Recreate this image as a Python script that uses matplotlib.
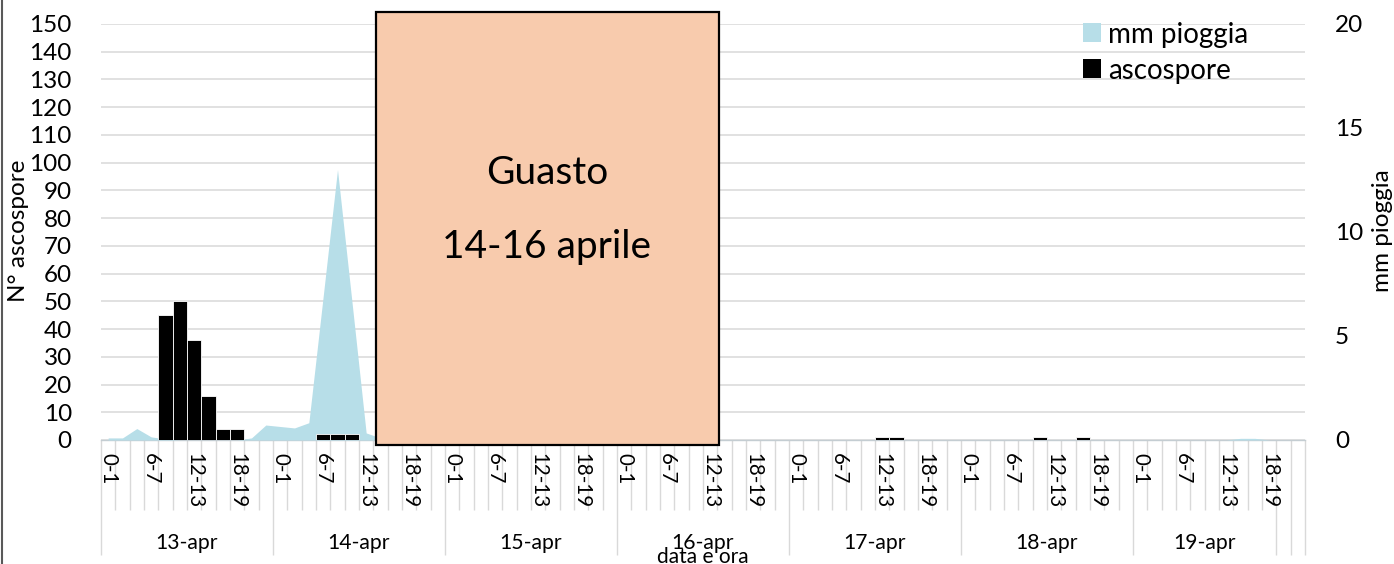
import numpy as np
import matplotlib
matplotlib.use("Agg")
import matplotlib.pyplot as plt
from matplotlib.patches import Rectangle, Patch
from matplotlib.lines import Line2D
from matplotlib.ticker import FixedLocator

plt.rcParams['font.family'] = ['Lato', 'DejaVu Sans']

# ---------------- data ----------------
days = ["13-apr", "14-apr", "15-apr", "16-apr", "17-apr", "18-apr", "19-apr", "", ""]
day_slots = [12, 12, 12, 12, 12, 12, 10, 1, 1]
slot_labels = ["0-1", "2-3", "4-5", "6-7", "8-9", "10-11",
               "12-13", "14-15", "16-17", "18-19", "20-21", "22-23"]

# ascospore counts (per 2-hour slot)
asc_13 = [0, 0, 0, 0, 45, 50, 36, 16, 4, 4, 0, 0]
asc_14 = [0, 0, 0, 2, 2, 2, 0, 0, 0, 0, 0, 0]
asc_15 = [0] * 12
asc_16 = [0] * 12
asc_17 = [0, 0, 0, 0, 0, 0, 1, 1, 0, 0, 0, 0]
asc_18 = [0, 0, 0, 0, 0, 1, 0, 0, 1, 0, 0, 0]
asc_19 = [0, 0, 0, 0, 0, 0, 0, 0, 0, 0]
asc_extra = [0, 0]

# rain mm (per 2-hour slot)
rain_13 = [0.1, 0.1, 0.55, 0.15, 0.05, 0, 0, 0, 0, 0, 0.1, 0.72]
rain_14 = [0.65, 0.58, 0.83, 6.9, 13.0, 6.7, 0.34, 0.1, 0, 0, 0, 0]
rain_15 = [0] * 12
rain_16 = [0] * 12
rain_17 = [0] * 12
rain_18 = [0] * 12
rain_19 = [0, 0, 0, 0, 0, 0, 0, 0.08, 0.08, 0]
rain_extra = [0, 0]

ascospore = np.array(asc_13 + asc_14 + asc_15 + asc_16 + asc_17 + asc_18 + asc_19 + asc_extra, float)
pioggia = np.array(rain_13 + rain_14 + rain_15 + rain_16 + rain_17 + rain_18 + rain_19 + rain_extra, float)

n = len(ascospore)
centers = np.arange(n) + 0.5

# hour labels for each slot
hour_lab = []
for cnt in day_slots:
    hour_lab += slot_labels[:cnt]

W, H = 1394, 564
fig = plt.figure(figsize=(W / 100, H / 100), dpi=100)
L, R, T, B = 101, 1305, 24, 440
pos = [L / W, 1 - B / H, (R - L) / W, (B - T) / H]

ax = fig.add_axes(pos)
ax2 = ax.twinx()
ax3 = fig.add_axes(pos, sharex=ax, sharey=ax)
ax.set_zorder(0)
ax2.set_zorder(1)
ax3.set_zorder(2)
ax3.axis('off')
ax2.patch.set_visible(False)

grid_c = '#D9D9D9'
ax.set_xlim(0, n)
ax.set_ylim(0, 150)
ax.set_yticks(np.arange(0, 151, 10))
ax.grid(axis='y', color=grid_c, linewidth=1.1)
ax.set_axisbelow(True)
for s in ['top', 'right', 'left']:
    ax.spines[s].set_visible(False)
ax.spines['bottom'].set_color('#C4CDD2')
ax.spines['bottom'].set_linewidth(1.0)
for s in ax2.spines.values():
    s.set_visible(False)

ax2.set_ylim(0, 20)
ax2.set_yticks([0, 5, 10, 15, 20])

# rain area
ax2.fill_between(centers, pioggia, 0, color='#B7DEE8', linewidth=0, zorder=1)
# ascospore bars
ax3.bar(centers, ascospore, width=1.0, color='black', edgecolor='white', linewidth=0.6)

# y tick styling
ax.tick_params(axis='y', length=0, pad=21, labelsize=17.5, colors='black')
ax2.tick_params(axis='y', length=0, pad=21.5, labelsize=17.5, colors='black')

# x ticks: slot boundaries (minor) and group boundaries (major)
bounds = np.concatenate([[0], np.cumsum(day_slots)])
ax.xaxis.set_major_locator(FixedLocator(bounds))
ax.xaxis.set_minor_locator(FixedLocator(np.arange(0, n + 1)))
ax.tick_params(axis='x', which='major', length=83, width=1.0, color=grid_c, labelbottom=False)
ax.tick_params(axis='x', which='minor', length=50.4, width=1.0, color=grid_c, labelbottom=False)

# hour labels (every 3rd slot)
for i in range(n):
    if i % 3 == 0:
        ax.annotate(hour_lab[i], xy=(centers[i], 0), xycoords=('data', 'axes fraction'),
                    xytext=(0, -9.5), textcoords='offset points',
                    ha='center', va='top', rotation=270, fontsize=14.8, color='black',
                    annotation_clip=False)
# day labels
for d, a, b in zip(days, bounds[:-1], bounds[1:]):
    if d:
        ax.annotate(d, xy=((a + b) / 2, 0), xycoords=('data', 'axes fraction'),
                    xytext=(0, -74), textcoords='offset points',
                    ha='center', va='center', fontsize=15.2, color='black',
                    annotation_clip=False)

ax.set_xlabel("data e ora", fontsize=15)
ax.xaxis.set_label_coords(0.5, (B - 557) / (B - T))
ax.xaxis.label.set_va('center')

ax.set_ylabel("N° ascospore", fontsize=17.5)
ax.yaxis.set_label_coords((18 - L) / (R - L), (B - 231) / (B - T))
ax.yaxis.label.set_va('center')
ax2.set_ylabel("mm pioggia", fontsize=17.5, rotation=90)
ax2.yaxis.set_label_coords((1383 - L) / (R - L), (B - 231) / (B - T))
ax2.yaxis.label.set_va('center')
ax2.yaxis.label.set_ha('center')

# legend
handles = [Patch(facecolor='#B7DEE8', edgecolor='none'), Patch(facecolor='black', edgecolor='none')]
fig.legend(handles, ["mm pioggia", "ascospore"], loc='center left',
           bbox_to_anchor=(1083 / W, 1 - 52.5 / H), frameon=False, fontsize=20,
           handlelength=0.65, handleheight=0.65, handletextpad=0.25, labelspacing=0.36,
           borderpad=0, borderaxespad=0)

# "Guasto" box
fig.add_artist(Rectangle((376 / W, 1 - 445 / H), (719 - 376) / W, (445 - 12) / H,
                         transform=fig.transFigure, facecolor='#F8CBAD',
                         edgecolor='black', linewidth=1.6, zorder=10))
fig.text(547 / W, 1 - 173 / H, "Guasto", ha='center', va='center', fontsize=28, zorder=11)
fig.text(547 / W, 1 - 247 / H, "14-16 aprile", ha='center', va='center', fontsize=28, zorder=11)

# chart area left border
fig.add_artist(Line2D([1.5 / W, 1.5 / W], [0, 1], transform=fig.transFigure,
                      color='#595959', linewidth=1.5))

fig.savefig("out.png", dpi=100)
